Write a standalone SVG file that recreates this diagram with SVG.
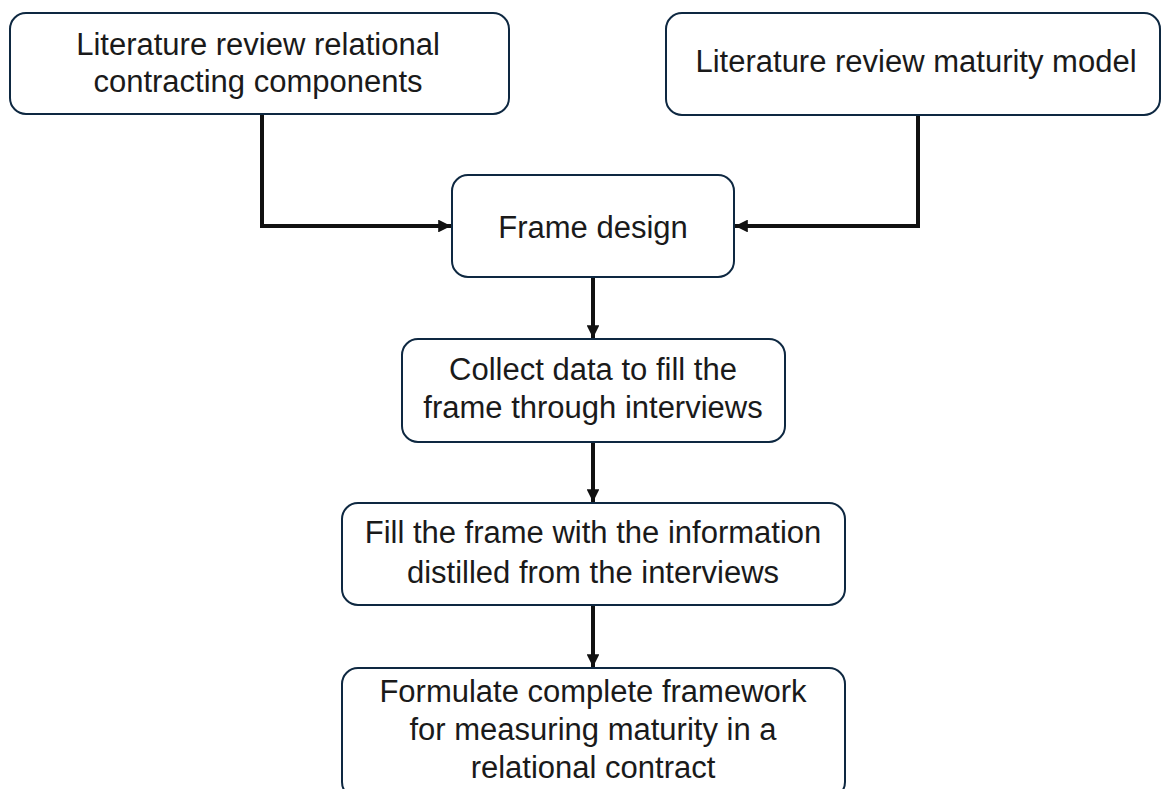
<svg xmlns="http://www.w3.org/2000/svg" width="1162" height="789" viewBox="0 0 1162 789">
  <defs>
    <style>
      .box { fill: #ffffff; stroke: #0e2841; stroke-width: 2; }
      .lbl { font-family: "Liberation Sans", Arial, sans-serif; font-size: 31px; fill: #1a1a1a; text-anchor: middle; }
      .conn { fill: none; stroke: #111111; stroke-width: 4; stroke-linejoin: miter; }
    </style>
    <marker id="arrow" viewBox="0 0 10 10" refX="10" refY="5" markerWidth="3.2" markerHeight="3.2" orient="auto" markerUnits="strokeWidth">
      <path d="M0,0 L10,5 L0,10 Z" fill="#111111"/>
    </marker>
  </defs>
  <rect width="1162" height="789" fill="#ffffff"/>

  <g id="connectors">
    <path class="conn" d="M262,114 V226 H451" marker-end="url(#arrow)"/>
    <path class="conn" d="M918,115 V226 H735" marker-end="url(#arrow)"/>
    <path class="conn" d="M593,277 V338" marker-end="url(#arrow)"/>
    <path class="conn" d="M593,442 V502" marker-end="url(#arrow)"/>
    <path class="conn" d="M593,605 V667" marker-end="url(#arrow)"/>
  </g>

  <g id="node-lit-rc">
    <rect class="box" x="10" y="13" width="499" height="101" rx="16"/>
    <text class="lbl" x="258" y="55">Literature review relational</text>
    <text class="lbl" x="258" y="92">contracting components</text>
  </g>

  <g id="node-lit-mm">
    <rect class="box" x="666" y="13" width="494" height="102" rx="16"/>
    <text class="lbl" x="916" y="72">Literature review maturity model</text>
  </g>

  <g id="node-frame">
    <rect class="box" x="452" y="175" width="282" height="102" rx="16"/>
    <text class="lbl" x="593" y="238">Frame design</text>
  </g>

  <g id="node-collect">
    <rect class="box" x="402" y="339" width="383" height="103" rx="16"/>
    <text class="lbl" x="593" y="380">Collect data to fill the</text>
    <text class="lbl" x="593" y="418">frame through interviews</text>
  </g>

  <g id="node-fill">
    <rect class="box" x="342" y="503" width="503" height="102" rx="16"/>
    <text class="lbl" x="593" y="543">Fill the frame with the information</text>
    <text class="lbl" x="593" y="583">distilled from the interviews</text>
  </g>

  <g id="node-formulate">
    <rect class="box" x="342" y="668" width="503" height="130" rx="16"/>
    <text class="lbl" x="593" y="702">Formulate complete framework</text>
    <text class="lbl" x="593" y="740">for measuring maturity in a</text>
    <text class="lbl" x="593" y="778">relational contract</text>
  </g>
</svg>
